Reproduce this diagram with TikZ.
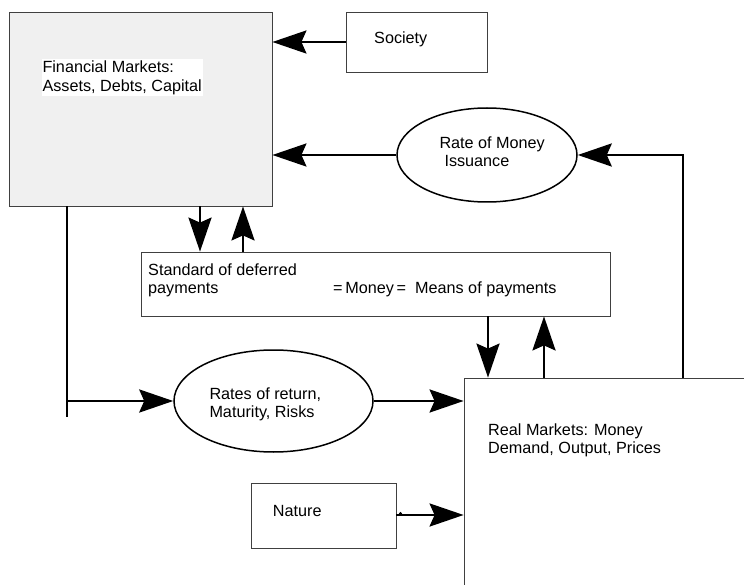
\documentclass[tikz,border=0pt]{standalone}
\usepackage{fontspec}
\setmainfont{Liberation Sans}
\usetikzlibrary{arrows.meta,shapes.geometric}
\begin{document}
\begin{tikzpicture}[x=1pt,y=-1pt,
  box/.style={draw=black!75,line width=0.8pt,minimum width=#1,inner sep=0pt},
  oval/.style={ellipse,draw=black,line width=1.5pt,inner sep=0pt},
  txt/.style={font=\fontsize{16.2}{18.3}\selectfont,align=left,inner sep=0pt,anchor=north west},
  conn/.style={line width=2.9pt,draw=black},
  arr/.style={conn,-{Stealth[length=34pt,width=23pt,inset=5pt]}}]
\clip (0,0) rectangle (744,585);
\fill[white] (0,0) rectangle (744,585);
% boxes
\node[box=263pt,minimum height=194pt,fill=black!6] (fm) at (140.5,109) {};
\node[box=141pt,minimum height=60pt] (soc) at (416.5,42) {};
\node[box=469pt,minimum height=64pt] (std) at (375.5,284) {};
\node[box=400pt,minimum height=300pt] (real) at (664,528) {};
\node[box=145pt,minimum height=65pt] (nat) at (323.5,515.5) {};
\node[oval,minimum width=180pt,minimum height=94pt] (rmi) at (487,155) {};
\node[oval,minimum width=199pt,minimum height=102pt] (ror) at (273.5,401) {};
% texts (multi-line nodes: base = baseline of last line)
\node[txt,fill=white,inner xsep=0.8pt,inner ysep=1.8pt] (tfm) at (41.5,59) {Financial Markets:\\Assets, Debts, Capital};
\node[txt,anchor=base west] (tsoc) at (374,43.3) {Society};
\node[txt,anchor=base west] (trmi) at (439.3,166.7) {Rate of Money\\\hspace*{5pt}Issuance};
\node[txt,anchor=base west] (tstd) at (148,294) {Standard of deferred\\payments};
\node[txt,anchor=base west] (tmoney) at (333,294) {=\,Money\,=\ \ Means of payments};
\node[txt,anchor=base west] (tror) at (209.3,417.7) {Rates of return,\\Maturity, Risks};
\node[txt,anchor=base west] (treal) at (488,453.3) {Real Markets: Money\\Demand, Output, Prices};
\node[txt,anchor=base west] (tnat) at (272.7,516) {Nature};
% helper coordinates
\coordinate (xa) at (200,0);
\coordinate (xb) at (243,0);
\coordinate (xc) at (488,0);
\coordinate (xd) at (544,0);
\coordinate (xe) at (683,0);
\coordinate (xf) at (67,0);
\coordinate (fend) at (67,417);
\coordinate (fjoin) at (67,401);
\coordinate (nstart) at (396,515);
% connectors
\draw[arr] (soc.west) -- (soc.west -| fm.east);
\draw[arr] (rmi.west) -- (rmi.west -| fm.east);
\draw[arr] (xa |- fm.south) -- (xa |- std.north);
\draw[arr] (xb |- std.north) -- (xb |- fm.south);
\draw[arr] (xc |- std.south) -- (xc |- real.north);
\draw[arr] (xd |- real.north) -- (xd |- std.south);
\draw[arr] (xe |- real.north) -- (xe |- rmi.east) -- (rmi.east);
\draw[conn] (xf |- fm.south) -- (fend);
\draw[arr] (fjoin) -- (ror.west);
\draw[arr] (ror.east) -- (ror.east -| real.west);
\draw[arr] (nstart) -- (nstart -| real.west);
\fill (400.5,513.5) circle (1.6pt);
\end{tikzpicture}
\end{document}
